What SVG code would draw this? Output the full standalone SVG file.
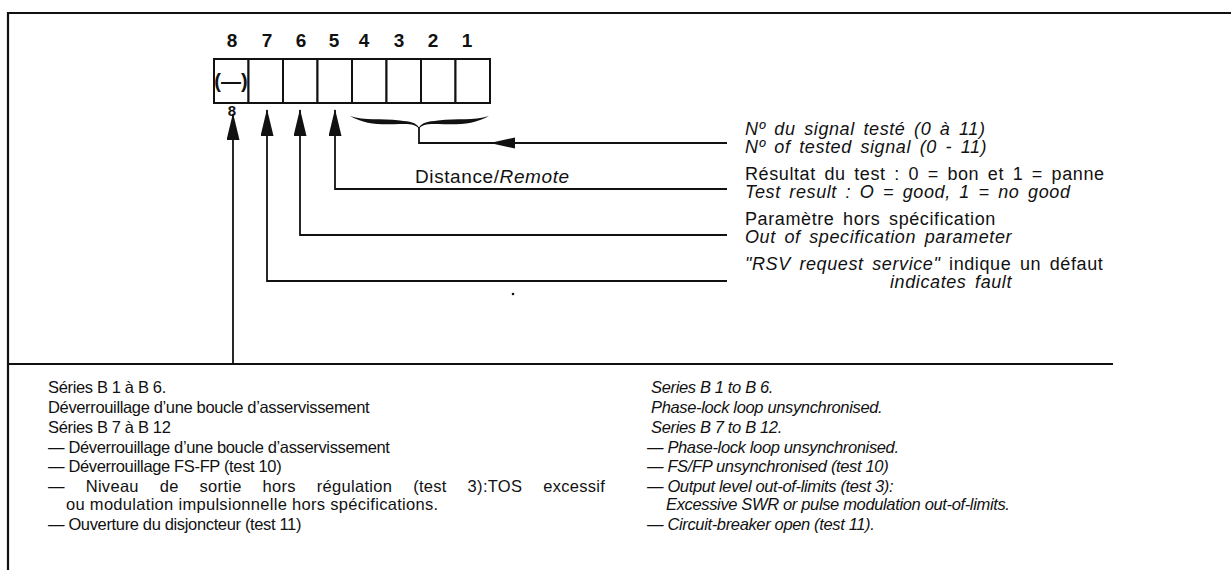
<svg xmlns="http://www.w3.org/2000/svg" width="1231" height="576" viewBox="0 0 1231 576">
<style>
text{font-family:"Liberation Sans",Arial,Helvetica,sans-serif;fill:#111}
.dg{font-size:19px;font-weight:bold;text-anchor:middle}
.t{font-size:18px;letter-spacing:0.6px;word-spacing:3px}
.b{font-size:16.5px;letter-spacing:-0.35px}
.i{font-style:italic}
.ln{fill:none;stroke:#111;stroke-width:1.8}
.fr{fill:none;stroke:#111;stroke-width:2.2}
.cell{fill:#fff;stroke:#111;stroke-width:2}
.hd{fill:#111;stroke:none}
</style>
<defs>
<marker id="ah" viewBox="0 0 27 13" refX="26" refY="6.5" markerWidth="27" markerHeight="13" markerUnits="userSpaceOnUse" orient="auto"><path d="M0,0 L27,6.5 L0,13 Z" fill="#111"/></marker>
</defs>
<rect width="1231" height="576" fill="#fff"/>
<g id="frame">
<path class="fr" d="M1231,13 H8 V570"/>
<path class="fr" d="M8,364 H1113"/>
</g>
<g id="register">
<g id="bit-numbers">
<text class="dg" x="232" y="47">8</text>
<text class="dg" x="267" y="47">7</text>
<text class="dg" x="301" y="47">6</text>
<text class="dg" x="334" y="47">5</text>
<text class="dg" x="364" y="47">4</text>
<text class="dg" x="399" y="47">3</text>
<text class="dg" x="433" y="47">2</text>
<text class="dg" x="467" y="47">1</text>
</g>
<g id="cells">
<rect class="cell" x="214" y="59" width="34.5" height="44"/>
<rect class="cell" x="248.5" y="59" width="34.5" height="44"/>
<rect class="cell" x="283" y="59" width="34.5" height="44"/>
<rect class="cell" x="317.5" y="59" width="34.5" height="44"/>
<rect class="cell" x="352" y="59" width="34.5" height="44"/>
<rect class="cell" x="386.5" y="59" width="34.5" height="44"/>
<rect class="cell" x="421" y="59" width="34.5" height="44"/>
<rect class="cell" x="455.5" y="59" width="34.5" height="44"/>
</g>
<text x="231" y="88" style="font-size:20px;font-weight:bold;text-anchor:middle">(—)</text>
</g>
<g id="connectors">
<path class="ln" d="M233,364 V114" marker-end="url(#ah)"/>
<path class="ln" d="M727,281 H267 V110" marker-end="url(#ah)"/>
<path class="ln" d="M727,235 H300 V110" marker-end="url(#ah)"/>
<path class="ln" d="M727,189 H335 V110" marker-end="url(#ah)"/>
<path class="ln" d="M727,143 H419 V127"/>
<polygon class="hd" points="490,143 515,137.5 515,148.5"/>
<path class="hd" d="M350,116 C365,121 380,118 400,120.5 C410,121.5 416,122.5 419,127.5 C422,122.5 428,121.5 438,120.5 C458,118 473,121 489,116 C474,124.5 458,125 438,124 C428,123.5 422,124.5 419,128.5 C416,124.5 410,123.5 400,124 C380,125 365,124.5 350,116 Z"/>
</g>
<g id="bit8-label"><text x="232" y="116" style="font-size:15px;font-weight:bold;text-anchor:middle">8</text></g>
<g id="remote-label"><text class="t" x="415" y="183" style="font-size:19px">Distance/<tspan class="i">Remote</tspan></text></g>
<g id="label-signal">
<text class="t i" x="745" y="135">Nº du signal testé (0 à 11)</text>
<text class="t i" x="745" y="153">Nº of tested signal (0 - 11)</text>
</g>
<g id="label-result">
<text class="t" x="745" y="180">Résultat du test : 0 = bon et 1 = panne</text>
<text class="t i" x="745" y="198">Test result : O = good, 1 = no good</text>
</g>
<g id="label-param">
<text class="t" x="745" y="225">Paramètre hors spécification</text>
<text class="t i" x="745" y="243">Out of specification parameter</text>
</g>
<g id="label-rsv">
<text class="t" x="745" y="270"><tspan class="i">"RSV request service"</tspan> indique un défaut</text>
<text class="t i" x="890" y="288">indicates fault</text>
</g>
<circle cx="513" cy="294" r="1.3" fill="#111"/>
<g id="notes-fr">
<text class="b" x="48" y="393">Séries B 1 à B 6.</text>
<text class="b" x="48" y="413">Déverrouillage d’une boucle d’asservissement</text>
<text class="b" x="48" y="433">Séries B 7 à B 12</text>
<text class="b" x="48" y="453">— Déverrouillage d’une boucle d’asservissement</text>
<text class="b" x="48" y="472">— Déverrouillage FS-FP (test 10)</text>
<text class="b" x="48" y="492" style="word-spacing:16px;letter-spacing:0.3px">— Niveau de sortie hors régulation (test 3):TOS excessif</text>
<text class="b" x="66" y="510" style="letter-spacing:0.3px">ou modulation impulsionnelle hors spécifications.</text>
<text class="b" x="48" y="530">— Ouverture du disjoncteur (test 11)</text>
</g>
<g id="notes-en">
<text class="b i" x="651" y="393">Series B 1 to B 6.</text>
<text class="b i" x="651" y="413">Phase-lock loop unsynchronised.</text>
<text class="b i" x="651" y="433">Series B 7 to B 12.</text>
<text class="b i" x="647" y="453">— Phase-lock loop unsynchronised.</text>
<text class="b i" x="647" y="472">— FS/FP unsynchronised (test 10)</text>
<text class="b i" x="647" y="492">— Output level out-of-limits (test 3):</text>
<text class="b i" x="666" y="510">Excessive SWR or pulse modulation out-of-limits.</text>
<text class="b i" x="647" y="530">— Circuit-breaker open (test 11).</text>
</g>
</svg>
